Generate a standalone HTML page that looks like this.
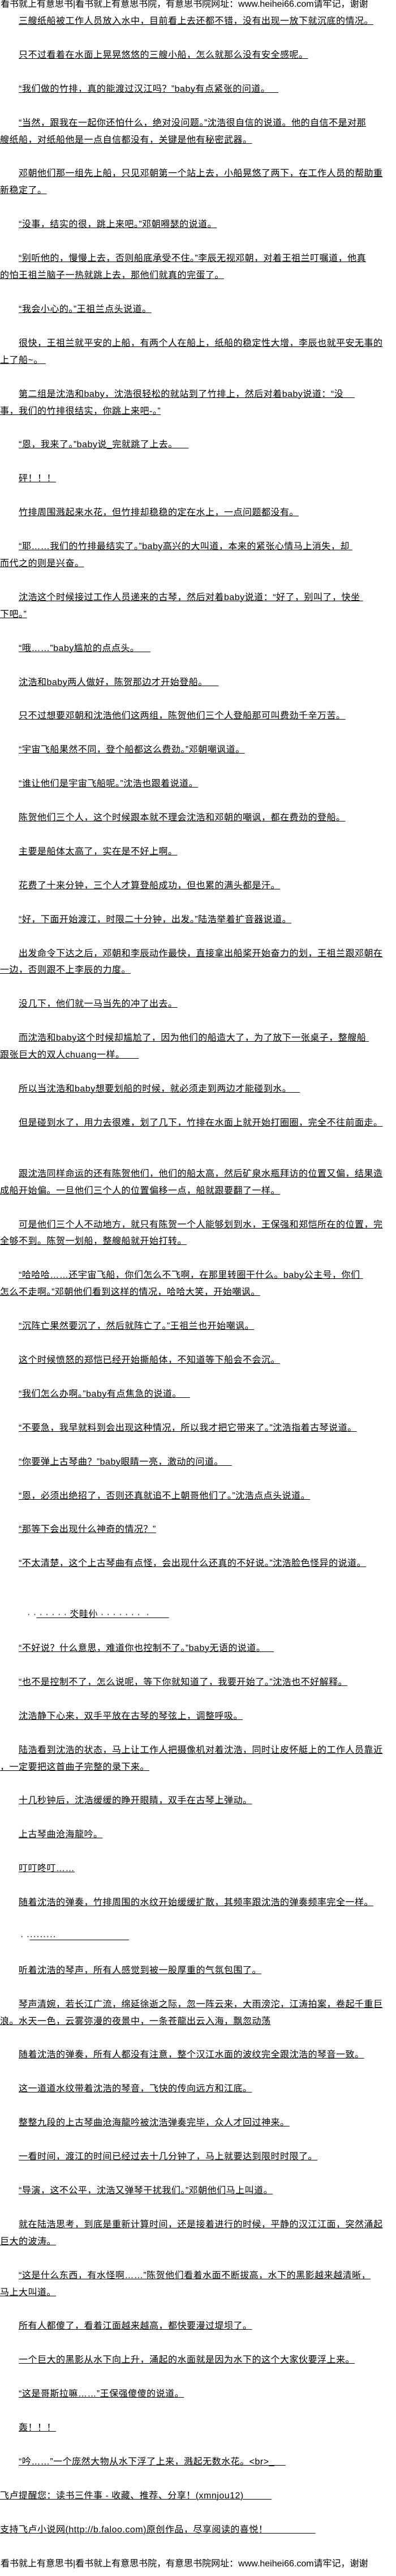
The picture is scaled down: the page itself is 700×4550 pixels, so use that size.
<!DOCTYPE html>
<html><head><meta charset="utf-8">
<style>
html,body{margin:0;padding:0;background:#fff;}
body{width:700px;height:4550px;overflow:hidden;position:relative;}
#c{position:absolute;left:0;top:-7px;width:700px;font-family:"Liberation Sans","Noto Sans CJK SC",sans-serif;font-size:16px;color:#000;letter-spacing:0.5px;}
.l{height:29.95px;line-height:30px;white-space:pre;overflow:hidden;}
.i{padding-left:33px;}
.u{text-decoration:underline;text-decoration-thickness:1px;}
.h{font-size:16px;letter-spacing:0;padding-left:1px;}
</style></head><body><div id="c">
<div class="l h">看书就上有意思书|看书就上有意思书院，有意思书院网址：www.heihei66.com请牢记，谢谢</div>
<div class="l i"><span class="u">三艘纸船被工作人员放入水中，目前看上去还都不错，没有出现一放下就沉底的情况。</span></div>
<div class="l"></div>
<div class="l i"><span class="u">只不过看着在水面上晃晃悠悠的三艘小船，怎么就那么没有安全感呢。</span></div>
<div class="l"></div>
<div class="l i"><span class="u">“我们做的竹排，真的能渡过汉江吗？”baby有点紧张的问道。   </span></div>
<div class="l"></div>
<div class="l i"><span class="u">“当然，跟我在一起你还怕什么，绝对没问题。”沈浩很自信的说道。他的自信不是对那</span></div>
<div class="l"><span class="u">艘纸船，对纸船他是一点自信都没有，关键是他有秘密武器。</span></div>
<div class="l"></div>
<div class="l i"><span class="u">邓朝他们那一组先上船，只见邓朝第一个站上去，小船晃悠了两下，在工作人员的帮助重</span></div>
<div class="l"><span class="u">新稳定了。</span></div>
<div class="l"></div>
<div class="l i"><span class="u">“没事，结实的很，跳上来吧。”邓朝嘚瑟的说道。</span></div>
<div class="l"></div>
<div class="l i"><span class="u">“别听他的，慢慢上去，否则船底承受不住。”李辰无视邓朝，对着王祖兰叮嘱道，他真</span></div>
<div class="l"><span class="u">的怕王祖兰脑子一热就跳上去，那他们就真的完蛋了。</span></div>
<div class="l"></div>
<div class="l i"><span class="u">“我会小心的。”王祖兰点头说道。</span></div>
<div class="l"></div>
<div class="l i"><span class="u">很快，王祖兰就平安的上船，有两个人在船上，纸船的稳定性大增，李辰也就平安无事的</span></div>
<div class="l"><span class="u">上了船~。 </span></div>
<div class="l"></div>
<div class="l i"><span class="u">第二组是沈浩和baby，沈浩很轻松的就站到了竹排上，然后对着baby说道：“没    </span></div>
<div class="l"><span class="u">事，我们的竹排很结实，你跳上来吧-。”</span></div>
<div class="l"></div>
<div class="l i"><span class="u">“恩，我来了。”baby说_完就跳了上去。    </span></div>
<div class="l"></div>
<div class="l i"><span class="u">砰！！！</span></div>
<div class="l"></div>
<div class="l i"><span class="u">竹排周围溅起来水花，但竹排却稳稳的定在水上，一点问题都没有。</span></div>
<div class="l"></div>
<div class="l i"><span class="u">“耶……我们的竹排最结实了。”baby高兴的大叫道，本来的紧张心情马上消失，却 </span></div>
<div class="l"><span class="u">而代之的则是兴奋。</span></div>
<div class="l"></div>
<div class="l i"><span class="u">沈浩这个时候接过工作人员递来的古琴，然后对着baby说道：“好了，别叫了，快坐 </span></div>
<div class="l"><span class="u">下吧。”</span></div>
<div class="l"></div>
<div class="l i"><span class="u">“哦……”baby尴尬的点点头。    </span></div>
<div class="l"></div>
<div class="l i"><span class="u">沈浩和baby两人做好，陈贺那边才开始登船。    </span></div>
<div class="l"></div>
<div class="l i"><span class="u">只不过想要邓朝和沈浩他们这两组，陈贺他们三个人登船那可叫费劲千辛万苦。</span></div>
<div class="l"></div>
<div class="l i"><span class="u">“宇宙飞船果然不同，登个船都这么费劲。”邓朝嘲讽道。</span></div>
<div class="l"></div>
<div class="l i"><span class="u">“谁让他们是宇宙飞船呢。”沈浩也跟着说道。</span></div>
<div class="l"></div>
<div class="l i"><span class="u">陈贺他们三个人，这个时候跟本就不理会沈浩和邓朝的嘲讽，都在费劲的登船。</span></div>
<div class="l"></div>
<div class="l i"><span class="u">主要是船体太高了，实在是不好上啊。</span></div>
<div class="l"></div>
<div class="l i"><span class="u">花费了十来分钟，三个人才算登船成功，但也累的满头都是汗。</span></div>
<div class="l"></div>
<div class="l i"><span class="u">“好，下面开始渡江，时限二十分钟，出发。”陆浩举着扩音器说道。</span></div>
<div class="l"></div>
<div class="l i"><span class="u">出发命令下达之后，邓朝和李辰动作最快，直接拿出船桨开始奋力的划，王祖兰跟邓朝在</span></div>
<div class="l"><span class="u">一边，否则跟不上李辰的力度。</span></div>
<div class="l"></div>
<div class="l i"><span class="u">没几下，他们就一马当先的冲了出去。</span></div>
<div class="l"></div>
<div class="l i"><span class="u">而沈浩和baby这个时候却尴尬了，因为他们的船造大了，为了放下一张桌子，整艘船 </span></div>
<div class="l"><span class="u">跟张巨大的双人chuang一样。     </span></div>
<div class="l"></div>
<div class="l i"><span class="u">所以当沈浩和baby想要划船的时候，就必须走到两边才能碰到水。   </span></div>
<div class="l"></div>
<div class="l i"><span class="u">但是碰到水了，用力去很难，划了几下，竹排在水面上就开始打圈圈，完全不往前面走。</span></div>
<div class="l"></div>
<div class="l"></div>
<div class="l i"><span class="u">跟沈浩同样命运的还有陈贺他们，他们的船太高，然后矿泉水瓶拜访的位置又偏，结果造</span></div>
<div class="l"><span class="u">成船开始偏。一旦他们三个人的位置偏移一点，船就跟要翻了一样。</span></div>
<div class="l"></div>
<div class="l i"><span class="u">可是他们三个人不动地方，就只有陈贺一个人能够划到水，王保强和郑恺所在的位置，完</span></div>
<div class="l"><span class="u">全够不到。陈贺一划船，整艘船就开始打转。</span></div>
<div class="l"></div>
<div class="l i"><span class="u">“哈哈哈……还宇宙飞船，你们怎么不飞啊，在那里转圈干什么。baby公主号，你们 </span></div>
<div class="l"><span class="u">怎么不走啊。”邓朝他们看到这样的情况，哈哈大笑，开始嘲讽。</span></div>
<div class="l"></div>
<div class="l i"><span class="u">“沉阵亡果然要沉了，然后就阵亡了。”王祖兰也开始嘲讽。</span></div>
<div class="l"></div>
<div class="l i"><span class="u">这个时候愤怒的郑恺已经开始撕船体，不知道等下船会不会沉。</span></div>
<div class="l"></div>
<div class="l i"><span class="u">“我们怎么办啊。”baby有点焦急的说道。   </span></div>
<div class="l"></div>
<div class="l i"><span class="u">“不要急，我早就料到会出现这种情况，所以我才把它带来了。”沈浩指着古琴说道。</span></div>
<div class="l"></div>
<div class="l i"><span class="u">“你要弹上古琴曲？”baby眼睛一亮，激动的问道。   </span></div>
<div class="l"></div>
<div class="l i"><span class="u">“恩，必须出绝招了，否则还真就追不上朝哥他们了。”沈浩点点头说道。</span></div>
<div class="l"></div>
<div class="l i"><span class="u">“那等下会出现什么神奇的情况？”</span></div>
<div class="l"></div>
<div class="l i"><span class="u">“不太清楚，这个上古琴曲有点怪，会出现什么还真的不好说。”沈浩脸色怪异的说道。</span></div>
<div class="l"></div>
<div class="l"></div>
<div class="l" style="padding-left:48px">· ·<span class="u"> · · · · · 氼畦仦 · · · · · · ·  ·       </span></div>
<div class="l"></div>
<div class="l i"><span class="u">“不好说？什么意思，难道你也控制不了。”baby无语的说道。   </span></div>
<div class="l"></div>
<div class="l i"><span class="u">“也不是控制不了，怎么说呢，等下你就知道了，我要开始了。”沈浩也不好解释。</span></div>
<div class="l"></div>
<div class="l i"><span class="u">沈浩静下心来，双手平放在古琴的琴弦上，调整呼吸。</span></div>
<div class="l"></div>
<div class="l i"><span class="u">陆浩看到沈浩的状态，马上让工作人把摄像机对着沈浩，同时让皮怀艇上的工作人员靠近</span></div>
<div class="l"><span class="u">，一定要把这首曲子完整的录下来。</span></div>
<div class="l"></div>
<div class="l i"><span class="u">十几秒钟后，沈浩缓缓的睁开眼睛，双手在古琴上弹动。</span></div>
<div class="l"></div>
<div class="l i"><span class="u">上古琴曲沧海龍吟。</span></div>
<div class="l"></div>
<div class="l i"><span class="u">叮叮咚叮……</span></div>
<div class="l"></div>
<div class="l i"><span class="u">随着沈浩的弹奏，竹排周围的水纹开始缓缓扩散，其频率跟沈浩的弹奏频率完全一样。</span></div>
<div class="l"></div>
<div class="l" style="padding-left:36px">· ·<span class="u">········                          </span></div>
<div class="l"></div>
<div class="l i"><span class="u">听着沈浩的琴声，所有人感觉到被一股厚重的气氛包围了。</span></div>
<div class="l"></div>
<div class="l i"><span class="u">琴声清婉，若长江广流，绵延徐逝之际，忽一阵云来，大雨滂沱，江涛拍案，卷起千重巨</span></div>
<div class="l"><span class="u">浪。水天一色，云雾弥漫的夜景中，一条苍龍出云入海，飘忽动荡</span></div>
<div class="l"></div>
<div class="l i"><span class="u">随着沈浩的弹奏，所有人都没有注意，整个汉江水面的波纹完全跟沈浩的琴音一致。</span></div>
<div class="l"></div>
<div class="l i"><span class="u">这一道道水纹带着沈浩的琴音，飞快的传向远方和江底。</span></div>
<div class="l"></div>
<div class="l i"><span class="u">整整九段的上古琴曲沧海龍吟被沈浩弹奏完毕，众人才回过神来。</span></div>
<div class="l"></div>
<div class="l i"><span class="u">一看时间，渡江的时间已经过去十几分钟了，马上就要达到限时时限了。</span></div>
<div class="l"></div>
<div class="l i"><span class="u">“导演，这不公平，沈浩又弹琴干扰我们。”邓朝他们马上叫道。</span></div>
<div class="l"></div>
<div class="l i"><span class="u">就在陆浩思考，到底是重新计算时间，还是接着进行的时候，平静的汉江江面，突然涌起</span></div>
<div class="l"><span class="u">巨大的波涛。</span></div>
<div class="l"></div>
<div class="l i"><span class="u">“这是什么东西，有水怪啊……”陈贺他们看着水面不断拔高，水下的黑影越来越清晰，</span></div>
<div class="l"><span class="u">马上大叫道。</span></div>
<div class="l"></div>
<div class="l i"><span class="u">所有人都傻了，看着江面越来越高，都快要漫过堤坝了。</span></div>
<div class="l"></div>
<div class="l i"><span class="u">一个巨大的黑影从水下向上升，涌起的水面就是因为水下的这个大家伙要浮上来。</span></div>
<div class="l"></div>
<div class="l i"><span class="u">“这是哥斯拉嘛……”王保强傻傻的说道。</span></div>
<div class="l"></div>
<div class="l i"><span class="u">轰！！！</span></div>
<div class="l"></div>
<div class="l i"><span class="u">“吟……”一个庞然大物从水下浮了上来，溅起无数水花。&lt;br&gt;_    </span></div>
<div class="l"></div>
<div class="l"><span class="u">飞卢提醒您：读书三件事 - 收藏、推荐、分享！(xmnjou12)          </span></div>
<div class="l"></div>
<div class="l"><span class="u">支持飞卢小说网(http://b.faloo.com)原创作品，尽享阅读的喜悦！                 </span></div>
<div class="l"></div>
<div class="l h">看书就上有意思书|看书就上有意思书院，有意思书院网址：www.heihei66.com请牢记，谢谢</div>
</div></body></html>
